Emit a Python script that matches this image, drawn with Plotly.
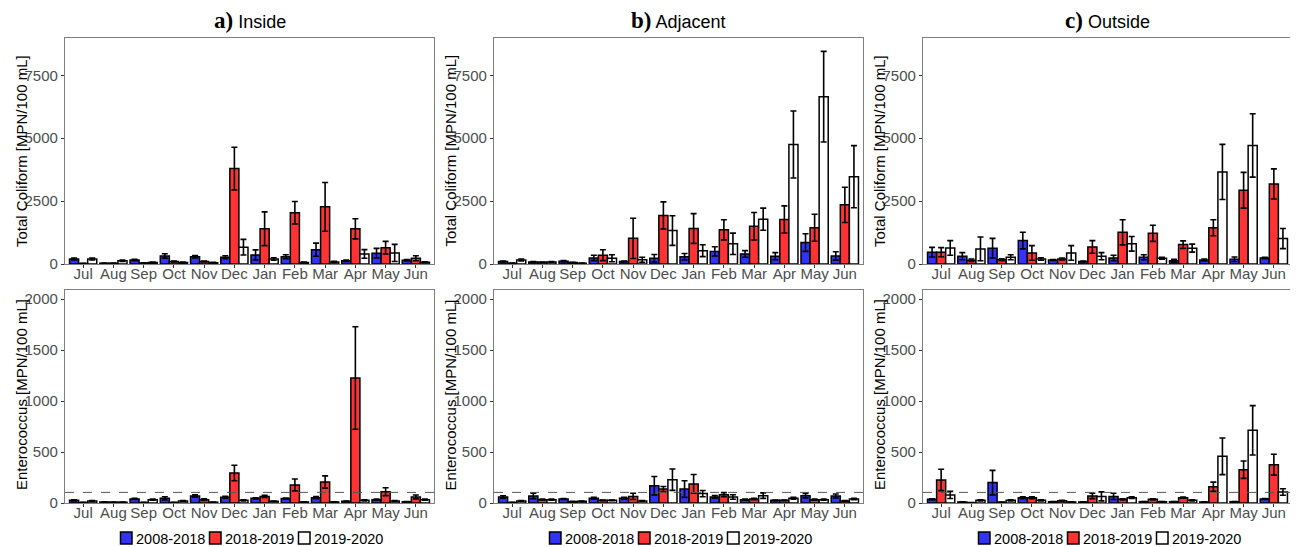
import plotly.graph_objects as go

months = ["Jul", "Aug", "Sep", "Oct", "Nov", "Dec", "Jan", "Feb", "Mar", "Apr", "May", "Jun"]
periods = ["2008-2018", "2018-2019", "2019-2020"]
panel_titles = ["a)", "b)", "c)"]
panel_names = ["Inside", "Adjacent", "Outside"]

# Total Coliform means (MPN/100 mL)
tc_inside_0818 = [200, 30, 160, 320, 290, 270, 360, 290, 570, 130, 430, 150]
tc_inside_1819 = [20, 30, 40, 100, 100, 3790, 1400, 2040, 2270, 1400, 650, 230]
tc_inside_1920 = [200, 130, 60, 60, 50, 670, 200, 60, 80, 400, 440, 70]
tc_adj_0818 = [100, 80, 110, 240, 100, 230, 290, 500, 400, 310, 850, 320]
tc_adj_1819 = [30, 70, 60, 350, 1020, 1930, 1410, 1360, 1500, 1770, 1440, 2350]
tc_adj_1920 = [160, 80, 30, 230, 170, 1330, 530, 800, 1780, 4750, 6650, 3470]
tc_out_0818 = [470, 310, 630, 930, 160, 100, 240, 270, 130, 160, 190, 240]
tc_out_1819 = [470, 150, 170, 440, 200, 680, 1260, 1220, 770, 1440, 2930, 3180]
tc_out_1920 = [640, 600, 270, 200, 440, 310, 800, 230, 630, 3660, 4710, 1010]

# Total Coliform standard errors
tc_inside_0818_se = [40, 10, 30, 85, 50, 60, 200, 80, 260, 25, 190, 25]
tc_inside_1819_se = [5, 5, 10, 20, 15, 850, 670, 445, 970, 400, 250, 100]
tc_inside_1920_se = [40, 30, 15, 15, 15, 310, 50, 20, 25, 170, 340, 20]
tc_adj_0818_se = [20, 15, 25, 105, 20, 150, 130, 185, 130, 140, 350, 165]
tc_adj_1819_se = [10, 10, 10, 215, 800, 540, 590, 400, 545, 540, 535, 700]
tc_adj_1920_se = [40, 15, 10, 140, 100, 590, 235, 425, 440, 1330, 1800, 1235]
tc_out_0818_se = [190, 140, 390, 330, 20, 20, 110, 100, 55, 40, 90, 30]
tc_out_1819_se = [180, 50, 40, 290, 40, 250, 500, 320, 150, 320, 710, 600]
tc_out_1920_se = [290, 470, 100, 50, 290, 140, 290, 40, 160, 1095, 1260, 400]

# Enterococcus means (MPN/100 mL)
ent_inside_0818 = [26, 10, 40, 46, 69, 56, 46, 43, 52, 16, 33, 12]
ent_inside_1819 = [5, 8, 5, 5, 33, 295, 65, 177, 206, 1227, 111, 59]
ent_inside_1920 = [20, 8, 33, 20, 8, 26, 16, 10, 10, 26, 20, 33]
ent_adj_0818 = [59, 69, 39, 46, 46, 170, 137, 59, 33, 26, 72, 69]
ent_adj_1819 = [5, 33, 13, 26, 65, 137, 187, 82, 39, 26, 33, 20]
ent_adj_1920 = [20, 33, 16, 26, 20, 229, 92, 59, 72, 46, 33, 39]
ent_out_0818 = [36, 10, 200, 52, 12, 10, 65, 13, 13, 10, 13, 39]
ent_out_1819 = [226, 3, 8, 52, 23, 69, 36, 36, 52, 160, 327, 376]
ent_out_1920 = [79, 26, 26, 26, 10, 65, 52, 13, 26, 458, 713, 108]

# Enterococcus standard errors
ent_inside_0818_se = [5, 2, 6, 16, 11, 10, 6, 6, 11, 3, 5, 3]
ent_inside_1819_se = [2, 2, 2, 2, 8, 76, 10, 58, 60, 503, 39, 19]
ent_inside_1920_se = [4, 2, 6, 4, 2, 6, 3, 2, 2, 6, 4, 6]
ent_adj_0818_se = [12, 26, 5, 9, 9, 90, 82, 13, 5, 4, 22, 20]
ent_adj_1819_se = [2, 5, 3, 4, 30, 25, 92, 20, 6, 4, 5, 3]
ent_adj_1920_se = [3, 5, 3, 4, 3, 105, 30, 22, 27, 9, 5, 6]
ent_out_0818_se = [5, 2, 120, 10, 2, 2, 30, 2, 2, 2, 2, 5]
ent_out_1819_se = [105, 1, 2, 10, 3, 26, 5, 5, 6, 45, 85, 102]
ent_out_1920_se = [35, 5, 5, 5, 2, 44, 8, 2, 5, 180, 242, 32]

ent_standard = 104

colors = ["#3333f5", "#ff3333", "#ffffff"]

tc_data = [
    [(tc_inside_0818, tc_inside_0818_se), (tc_inside_1819, tc_inside_1819_se), (tc_inside_1920, tc_inside_1920_se)],
    [(tc_adj_0818, tc_adj_0818_se), (tc_adj_1819, tc_adj_1819_se), (tc_adj_1920, tc_adj_1920_se)],
    [(tc_out_0818, tc_out_0818_se), (tc_out_1819, tc_out_1819_se), (tc_out_1920, tc_out_1920_se)],
]
ent_data = [
    [(ent_inside_0818, ent_inside_0818_se), (ent_inside_1819, ent_inside_1819_se), (ent_inside_1920, ent_inside_1920_se)],
    [(ent_adj_0818, ent_adj_0818_se), (ent_adj_1819, ent_adj_1819_se), (ent_adj_1920, ent_adj_1920_se)],
    [(ent_out_0818, ent_out_0818_se), (ent_out_1819, ent_out_1819_se), (ent_out_1920, ent_out_1920_se)],
]

# page body has an 8px margin: figure placed at (8, 8)
OFF = 8
W, H = 1298 - OFF, 547 - OFF
col_px = [(65, 434), (494, 863), (923, 1292)]
top_px = (38, 264)
bot_px = (290, 503)
ytitle_x = [21, 449.5, 879]

def fx(px):
    return (px - OFF) / W

def fy(py):
    return 1 - (py - OFF) / H

fig = go.Figure()
layout = dict(
    width=W, height=H, margin=dict(l=0, r=0, t=0, b=0, autoexpand=False),
    paper_bgcolor="white", plot_bgcolor="white",
    barmode="group", bargap=0.1, bargroupgap=0.0, showlegend=False,
    font=dict(family="Liberation Sans, Arial, sans-serif", color="black"),
    shapes=[], annotations=[],
)

axis_common = dict(
    showline=True, mirror=True, linecolor="#7f7f7f", linewidth=1.2,
    showgrid=False, zeroline=False, automargin=False,
    tickfont=dict(size=15, color="#4d4d4d", family="Liberation Sans, Arial, sans-serif"),
)

for c in range(3):
    xd = [fx(col_px[c][0]), fx(col_px[c][1])]
    for r, (data, ypx, yrange, ytitle, dtick, tcy) in enumerate([
        (tc_data[c], top_px, [0, 8980], "Total Coliform [MPN/100 mL]", 2500, 151),
        (ent_data[c], bot_px, [0, 2090], "Enterococcus [MPN/100 mL]", 500, 395),
    ]):
        idx = r * 3 + c + 1
        xa = "x" if idx == 1 else f"x{idx}"
        ya = "y" if idx == 1 else f"y{idx}"
        for k in range(3):
            vals, se = data[k]
            fig.add_trace(go.Bar(
                x=months, y=vals, name=periods[k],
                xaxis=xa, yaxis=ya,
                marker=dict(color=colors[k], line=dict(color="black", width=1.5)),
                error_y=dict(type="data", array=se, visible=True, color="black", thickness=1.6, width=3),
                offsetgroup=str(k),
            ))
        layout["xaxis" if idx == 1 else f"xaxis{idx}"] = dict(
            axis_common, domain=xd, anchor=ya, ticks="outside", ticklen=3,
            tickcolor="#333333", range=[-0.6, 11.6], type="category",
            ticklabelstandoff=-7,
        )
        layout["yaxis" if idx == 1 else f"yaxis{idx}"] = dict(
            axis_common, domain=[fy(ypx[1]), fy(ypx[0])], anchor=xa, range=yrange,
            tick0=0, dtick=dtick, ticks="outside", ticklen=3, tickcolor="#333333",
        )
        layout["annotations"].append(dict(
            xref="paper", yref="paper", x=fx(ytitle_x[c]), y=fy(tcy),
            xanchor="center", yanchor="middle", textangle=-90, showarrow=False,
            text=ytitle, font=dict(size=15, color="black"),
        ))
        if r == 1:
            layout["shapes"].append(dict(
                type="line", xref=f"{xa} domain", yref=ya, x0=0, x1=1,
                y0=ent_standard, y1=ent_standard,
                line=dict(color="#555555", width=1, dash="dash"),
            ))
    # panel title
    pcx = (col_px[c][0] + col_px[c][1]) / 2
    layout["annotations"].append(dict(
        xref="paper", yref="paper", x=fx(pcx), y=fy(21), xanchor="center", yanchor="middle",
        showarrow=False,
        text=f'<span style="font-family:Liberation Serif;font-size:23px"><b>{panel_titles[c]}</b></span> {panel_names[c]}',
        font=dict(size=18, color="black", family="Liberation Sans, Arial, sans-serif"),
    ))
    # legend (one per column, under the bottom panel)
    L = pcx + 2 - 131
    for k in range(3):
        x0 = L + 89 * k
        layout["shapes"].append(dict(
            type="rect", xref="paper", yref="paper",
            x0=fx(x0), x1=fx(x0 + 11.5), y0=fy(544), y1=fy(532),
            fillcolor=colors[k], line=dict(color="black", width=1.5),
        ))
        layout["annotations"].append(dict(
            xref="paper", yref="paper", x=fx(x0 + 13.5), y=fy(538.5),
            xanchor="left", yanchor="middle", showarrow=False,
            text=periods[k], font=dict(size=14.5, color="black"),
        ))

fig.update_layout(**layout)
fig.write_html("out.html")
